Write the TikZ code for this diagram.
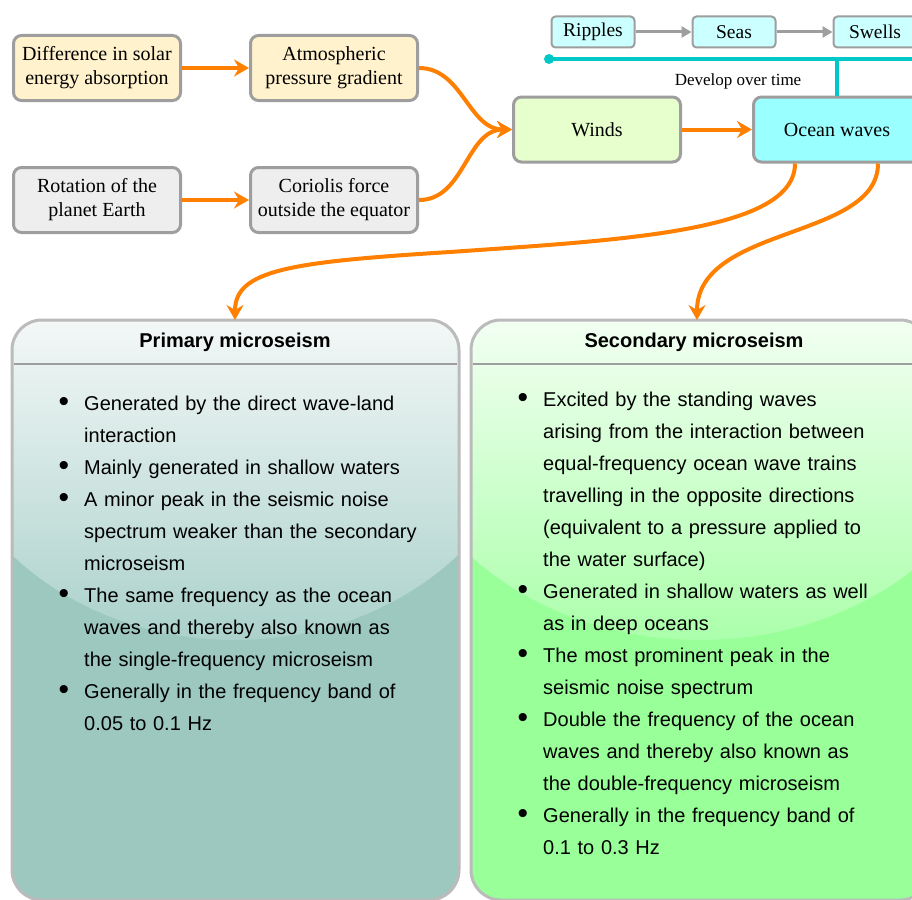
\documentclass[tikz,border=0pt]{standalone}
\usepackage{fontspec}
\setmainfont{Liberation Serif}
\setsansfont{Liberation Sans}
\usetikzlibrary{positioning, arrows.meta}
\definecolor{boxline}{HTML}{9E9E9E}
\definecolor{sunfill}{HTML}{FFF2CC}
\definecolor{earthfill}{HTML}{EEEEEE}
\definecolor{windfill}{HTML}{E6FFCC}
\definecolor{oceanfill}{HTML}{99FFFF}
\definecolor{stagefill}{HTML}{CCFFFF}
\definecolor{flow}{HTML}{FF8000}
\definecolor{develop}{HTML}{00C8C8}
\definecolor{primtop}{HTML}{F3F8F7}
\definecolor{primmid}{HTML}{ABD1CB}
\definecolor{primlow}{HTML}{9CC8C0}
\definecolor{sectop}{HTML}{F2FFF2}
\definecolor{secmid}{HTML}{ABFFAB}
\definecolor{seclow}{HTML}{99FF99}
\tikzstyle{box}=[rectangle,rounded corners=8pt,minimum width=167pt,minimum height=65pt,text centered,align=center,draw=boxline,line width=3pt,font=\fontsize{20}{24}\selectfont]
\tikzstyle{solar}=[box,fill=sunfill]
\tikzstyle{planet}=[box,fill=earthfill]
\tikzstyle{wind}=[box,fill=windfill]
\tikzstyle{ocean}=[box,fill=oceanfill]
\tikzstyle{stage}=[rectangle,rounded corners=4pt,minimum width=83pt,minimum height=31pt,draw=boxline,line width=2pt,fill=stagefill,font=\fontsize{19.5}{22}\selectfont]
\tikzstyle{arrow}=[line width=4pt,draw=flow,-{Stealth[length=15pt,width=17pt,inset=5pt,fill=flow]}]
\tikzstyle{steparrow}=[line width=3pt,draw=boxline,-{Triangle[length=10pt,width=11pt,fill=boxline]}]
\tikzstyle{devline}=[line width=3.5pt,draw=develop]
\tikzstyle{panel}=[draw=boxline!70,line width=3pt,rounded corners=30pt]
\tikzstyle{sepline}=[draw=boxline,line width=2pt]
\tikzstyle{title}=[font=\fontsize{20}{22}\selectfont\sffamily\bfseries]
\tikzstyle{facts}=[anchor=north west,inner sep=0pt,text width=385pt,font=\fontsize{20}{32}\selectfont\sffamily]
\newenvironment{factlist}{\setlength{\topsep}{0pt}\setlength{\partopsep}{0pt}%
  \setlength{\leftmargini}{20pt}\setlength{\labelsep}{15pt}%
  \renewcommand{\labelitemi}{\raisebox{-1.5pt}{\scalebox{1.5}{\textbullet}}}%
  \begin{itemize}\setlength{\itemsep}{0pt}\setlength{\parskip}{0pt}\setlength{\parsep}{0pt}}{\end{itemize}}

\begin{document}
\begin{tikzpicture}[x=1pt,y=-1pt]
\useasboundingbox (0,0) rectangle (912,899);
\clip (0,0) rectangle (912,899);
\fill[white] (0,0) rectangle (912,899);

% panels
\begin{scope}
\clip[rounded corners=30pt] (12,320) rectangle (459,900);
\fill[primlow] (12,320) rectangle (459,900);
\clip (235,383) ellipse [x radius=300, y radius=257];
\shade[top color=primtop,bottom color=primmid] (12,320) rectangle (459,640);
\end{scope}
\begin{scope}
\clip[rounded corners=30pt] (471,320) rectangle (930,900);
\fill[seclow] (471,320) rectangle (930,900);
\clip (700,383) ellipse [x radius=310, y radius=257];
\shade[top color=sectop,bottom color=secmid] (471,320) rectangle (930,640);
\end{scope}
\draw[panel] (12,320) rectangle (459,900);
\draw[panel] (471,320) rectangle (930,900);
\draw[sepline] (14,364) -- (457,364);
\draw[sepline] (473,364) -- (928,364);
\coordinate (primary) at (235,320);
\coordinate (secondary) at (697,320);

\node (primtitle) [title] at (235,342) {Primary microseism};
\node (sectitle) [title] at (694,342) {Secondary microseism};

\node (primtext) [facts] at (64,370) {\begin{factlist}
\item Generated by the direct wave-land\newline interaction
\item Mainly generated in shallow waters
\item A minor peak in the seismic noise\newline spectrum weaker than the secondary\newline microseism
\item The same frequency as the ocean\newline waves and thereby also known as\newline the single-frequency microseism
\item Generally in the frequency band of\newline 0.05 to 0.1 Hz
\end{factlist}};
\node (sectext) [facts] at (523,366) {\begin{factlist}
\item Excited by the standing waves\newline arising from the interaction between\newline equal-frequency ocean wave trains\newline travelling in the opposite directions\newline (equivalent to a pressure applied to\newline the water surface)
\item Generated in shallow waters as well\newline as in deep oceans
\item The most prominent peak in the\newline seismic noise spectrum
\item Double the frequency of the ocean\newline waves and thereby also known as\newline the double-frequency microseism
\item Generally in the frequency band of\newline 0.1 to 0.3 Hz
\end{factlist}};

% causes
\node (solar) [solar] at (97,68) {Difference in solar\\energy absorption};
\node (pressure) [solar,right=67pt of solar] {Atmospheric\\pressure gradient};
\node (rotation) [planet,below=64pt of solar] {Rotation of the\\planet Earth};
\node (coriolis) [planet,right=67pt of rotation] {Coriolis force\\outside the equator};
\node (winds) [wind] at (597,129.5) {Winds};
\node (ocean) [ocean,right=70pt of winds] {Ocean waves};

% wave stages
\node (ripples) [stage] at (593,32) {Ripples};
\node (seas) [stage,right=56pt of ripples] {Seas};
\node (swells) [stage,right=56pt of seas] {Swells};
\draw[steparrow] (ripples) -- (seas);
\draw[steparrow] (seas) -- (swells);
\coordinate (devdot) at (549,59);
\coordinate (devend) at (930,59);
\fill[develop] (devdot) circle (5);
\draw[devline] (devdot) -- (devend);
\draw[devline] (ocean.north) -- (ocean.north |- devdot);
\node (devlabel) [font=\fontsize{17}{19}\selectfont] at (738,81) {Develop over time};

\draw[arrow] (solar) -- (pressure);
\draw[arrow] (rotation) -- (coriolis);
\draw[arrow] (pressure.east) to[out=0,in=180] (winds.west);
\draw[arrow] (coriolis.east) to[out=0,in=180] (winds.west);
\draw[arrow] (winds) -- (ocean);
\draw[arrow] (ocean.south west) ++(43,0) coordinate (oceanleft)
  .. controls (795,232) and (620,240) .. (450,252)
  .. controls (290,262) and (235,270) .. (primary);
\draw[arrow] (ocean.south) ++(41,0) coordinate (oceanright)
  .. controls (878,240) and (697,225) .. (secondary);
\end{tikzpicture}
\end{document}
